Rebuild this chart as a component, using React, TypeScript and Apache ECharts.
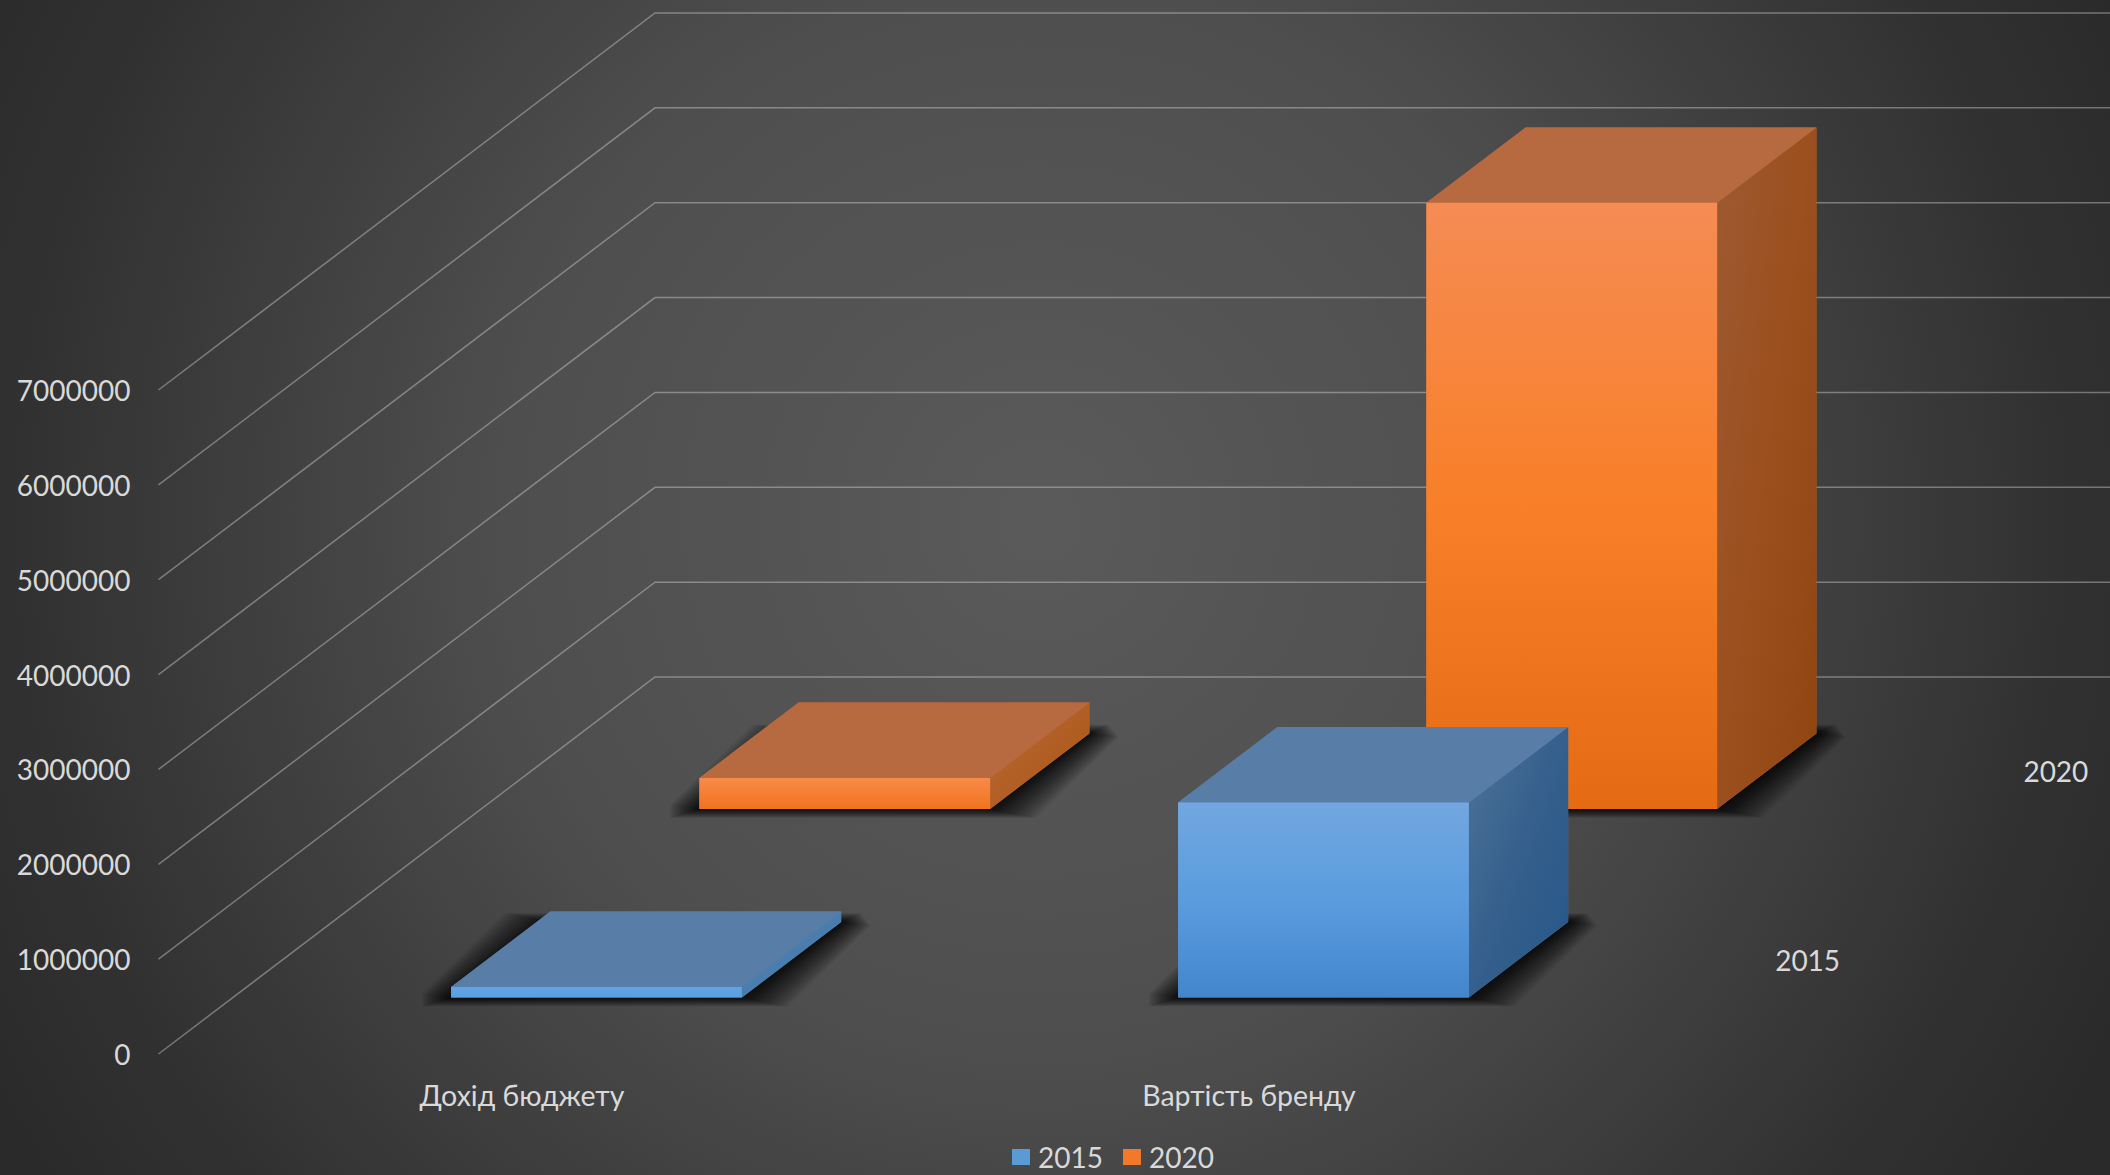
import React, { useEffect, useRef } from "react";
import * as echarts from "echarts";

const CATEGORIES = ["Дохід бюджету", "Вартість бренду"];
const SERIES_NAMES = ["2015", "2020"];
const VALUES_2015 = [110000, 2055000];
const VALUES_2020 = [327000, 6390000];
const Y_MIN = 0;
const Y_MAX = 7000000;
const Y_STEP = 1000000;
const Y_TICKS = [0, 1000000, 2000000, 3000000, 4000000, 5000000, 6000000, 7000000];

const WIDTH = 2110;
const HEIGHT = 1175;
const FONT = "Lato, 'Open Sans', sans-serif";
const TEXT = "#d9d9d9";

// Oblique projection: the whole floor recedes by this vector.
const DEPTH_X = 496.5;
const DEPTH_Y = -377;
const BAR_WIDTH_RATIO = 0.4;
const BAR_DEPTH_RATIO = 0.4;

type Stops = { offset: number; color: string }[];
const grad = (x2: number, y2: number, colorStops: Stops) => ({
  type: "linear",
  x: 0,
  y: 0,
  x2,
  y2,
  colorStops,
});
const stops = (...c: string[]): Stops =>
  c.map((color, i) => ({ offset: i / (c.length - 1), color }));

const PALETTE = [
  {
    legend: "#5b9bd5",
    top: "#587ea8",
    front: stops("#72a7e0", "#5a9cde", "#4386cc"),
    frontThin: stops("#60a4e6", "#5a9fe0"),
    side: stops("#4d7398", "#355f8c", "#265788"),
    sideThin: stops("#4f80ae", "#447aac"),
  },
  {
    legend: "#f2792a",
    top: "#b76a40",
    front: stops("#f58c54", "#f97f28", "#e56a14"),
    frontThin: stops("#f88a4a", "#f2731e"),
    side: stops("#9c5a32", "#9c4f1e", "#8f4510"),
    sideThin: stops("#b96a35", "#a95414"),
  },
];

const project = (x: number, y: number, t: number): number[] => [
  x + DEPTH_X * t,
  y + DEPTH_Y * t,
];

// Soft contact shadow on the floor: translucent layers, denser near the bar.
// The two acute corners are cut off so the outer layers fade out round.
const shadowLayers = (
  fl: number[],
  fr: number[],
  br: number[],
  bl: number[]
) => {
  const layers = [];
  const count = 30;
  const slope = DEPTH_X / -DEPTH_Y;
  for (let i = count; i >= 1; i--) {
    const k = Math.pow(i / count, 1.3);
    const ex = 46 * k;
    const ey = 9 * k;
    const cutY = ey * 1.4;
    const cutX = cutY * slope;
    layers.push({
      type: "polygon",
      shape: {
        points: [
          [fl[0] - ex + cutX, fl[1] + ey],
          [fr[0] + ex, fr[1] + ey],
          [br[0] + ex - cutX, br[1] - ey + cutY],
          [br[0] + ex - cutX * 1.6, br[1] - ey],
          [bl[0] - ex, bl[1] - ey],
          [fl[0] - ex + cutX, fl[1] + ey - cutY],
        ],
      },
      style: { fill: "rgba(0,0,0,0.042)" },
      silent: true,
    });
  }
  return layers;
};

const barRenderer = (seriesIndex: number) => (params: any, api: any) => {
  const colors = PALETTE[seriesIndex];
  const cat = api.value(0);
  const value = api.value(1);
  const base = api.coord([cat, Y_MIN]);
  const tip = api.coord([cat, value]);
  const band = api.size([1, 0])[0];
  const half = (band * BAR_WIDTH_RATIO) / 2;
  const slot = 1 / SERIES_NAMES.length;
  const tNear = slot * seriesIndex + (slot * (1 - BAR_DEPTH_RATIO)) / 2;
  const tFar = tNear + slot * BAR_DEPTH_RATIO;
  const xL = base[0] - half;
  const xR = base[0] + half;

  const fl = project(xL, base[1], tNear);
  const fr = project(xR, base[1], tNear);
  const br = project(xR, base[1], tFar);
  const bl = project(xL, base[1], tFar);
  const tfl = project(xL, tip[1], tNear);
  const tfr = project(xR, tip[1], tNear);
  const tbr = project(xR, tip[1], tFar);
  const tbl = project(xL, tip[1], tFar);
  const thin = base[1] - tip[1] < 60;

  return {
    type: "group",
    children: [
      ...shadowLayers(fl, fr, br, bl),
      // Silhouette under the faces, so nothing shows through their shared edges.
      {
        type: "polygon",
        shape: { points: [fl, fr, br, tbr, tbl, tfl] },
        style: { fill: colors.top },
      },
      {
        type: "polygon",
        shape: { points: [tfr, fr, br, tbr] },
        style: { fill: grad(1, 1, thin ? colors.sideThin : colors.side) },
      },
      {
        type: "polygon",
        shape: { points: [tfl, tfr, tbr, tbl] },
        style: { fill: colors.top },
      },
      {
        type: "polygon",
        shape: { points: [tfl, tfr, fr, fl] },
        style: { fill: grad(0, 1, thin ? colors.frontThin : colors.front) },
      },
    ],
  };
};

// Gridline: up the left wall, then flat along the back wall to the page edge.
const gridRenderer = (params: any, api: any) => {
  const value = api.value(0);
  const p = api.coord([0, value]);
  const left = p[0] - api.size([1, 0])[0] / 2;
  const back = project(left, p[1], 1);
  return {
    type: "polyline",
    shape: { points: [[left, p[1]], back, [api.getWidth(), back[1]]] },
    style: { stroke: "rgba(217,217,217,0.42)", lineWidth: 1.5, fill: "none" },
    silent: true,
  };
};

// Depth axis labels, beside the floor's right edge.
const depthLabelRenderer = (params: any, api: any) => {
  const idx = api.value(0);
  const p = api.coord([CATEGORIES.length - 1, Y_MIN]);
  const right = p[0] + api.size([1, 0])[0] / 2;
  const slot = 1 / SERIES_NAMES.length;
  const at = project(right, p[1], slot * (idx + 0.5));
  return {
    type: "text",
    x: at[0] + 71,
    y: at[1],
    style: {
      text: SERIES_NAMES[idx],
      fill: TEXT,
      font: `28px ${FONT}`,
      textAlign: "center",
      textVerticalAlign: "middle",
    },
    silent: true,
  };
};

export default function App() {
  const ref = useRef<HTMLDivElement>(null);

  useEffect(() => {
    const chart = echarts.init(ref.current!, undefined, { renderer: "svg" });
    chart.setOption({
      animation: false,
      backgroundColor: {
        type: "radial",
        x: 1040,
        y: 520,
        r: 1200,
        global: true,
        colorStops: [
          { offset: 0, color: "#5a5a5a" },
          { offset: 0.45, color: "#4e4e4e" },
          { offset: 0.85, color: "#313131" },
          { offset: 1, color: "#2a2a2a" },
        ],
      },
      grid: { left: 158.5, width: 1454, top: 390, height: 664 },
      legend: {
        data: SERIES_NAMES,
        left: 1012,
        top: 1143,
        padding: 0,
        icon: "rect",
        itemWidth: 18,
        itemHeight: 16,
        itemGap: 20,
        textStyle: {
          color: TEXT,
          fontFamily: FONT,
          fontSize: 28,
          lineHeight: 28,
          padding: [0, 0, 0, 3],
        },
      },
      xAxis: {
        type: "category",
        data: CATEGORIES,
        axisLine: { show: false },
        axisTick: { show: false },
        axisLabel: { color: TEXT, fontFamily: FONT, fontSize: 28.5, margin: 26 },
      },
      yAxis: {
        type: "value",
        min: Y_MIN,
        max: Y_MAX,
        interval: Y_STEP,
        axisLine: { show: false },
        axisTick: { show: false },
        splitLine: { show: false },
        axisLabel: {
          color: TEXT,
          fontFamily: FONT,
          fontSize: 28,
          margin: 28,
          formatter: (v: number) => String(v),
        },
      },
      series: [
        {
          type: "custom",
          name: "gridlines",
          z: 1,
          silent: true,
          renderItem: gridRenderer,
          encode: { y: 0 },
          data: Y_TICKS.map((v) => [v]),
        },
        {
          type: "custom",
          name: "depth labels",
          z: 1,
          silent: true,
          renderItem: depthLabelRenderer,
          data: SERIES_NAMES.map((_, i) => [i]),
        },
        {
          type: "custom",
          name: SERIES_NAMES[0],
          z: 4,
          itemStyle: { color: PALETTE[0].legend },
          renderItem: barRenderer(0),
          encode: { x: 0, y: 1 },
          data: VALUES_2015.map((v, i) => [i, v]),
        },
        {
          type: "custom",
          name: SERIES_NAMES[1],
          z: 3,
          itemStyle: { color: PALETTE[1].legend },
          renderItem: barRenderer(1),
          encode: { x: 0, y: 1 },
          data: VALUES_2020.map((v, i) => [i, v]),
        },
      ],
    });
    return () => chart.dispose();
  }, []);

  return (
    <div
      ref={ref}
      style={{ position: "absolute", left: 0, top: 0, width: WIDTH, height: HEIGHT }}
    />
  );
}
